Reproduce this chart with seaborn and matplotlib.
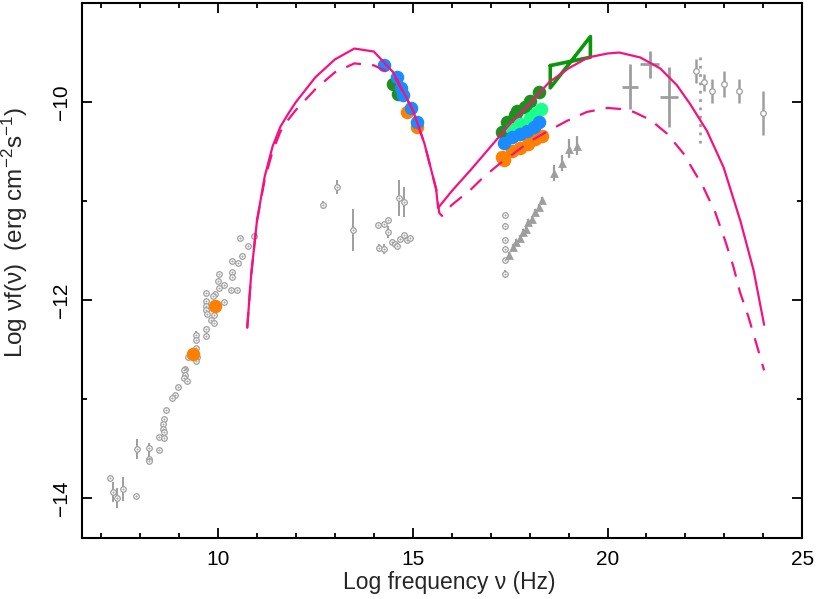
import numpy as np
import pandas as pd
import matplotlib
matplotlib.use("Agg")
import matplotlib.pyplot as plt
from matplotlib.ticker import MultipleLocator
import seaborn as sns

# ---------------- model curves (log nu, log nuFnu) ----------------
sol_x = [10.75, 10.85, 11.0, 11.2, 11.4, 11.6, 11.8, 12.0, 12.5, 13.0, 13.5, 14.0,
         14.5, 15.0, 15.3, 15.6, 15.65, 16.0, 16.5, 17.0, 17.5, 18.0, 18.5, 19.0,
         19.5, 20.0, 20.3, 20.84, 21.35, 21.78, 22.12, 22.55, 22.98, 23.41, 23.75, 24.02]
sol_y = [-12.28, -11.75, -11.2, -10.75, -10.45, -10.25, -10.12, -10.0, -9.75, -9.57,
         -9.46, -9.49, -9.70, -10.08, -10.42, -10.88, -11.07, -10.90, -10.68, -10.45,
         -10.22, -10.02, -9.80, -9.66, -9.55, -9.51, -9.50, -9.55, -9.66, -9.83, -10.02,
         -10.29, -10.66, -11.2, -11.7, -12.25]
dash_x = [10.75, 10.85, 11.0, 11.2, 11.4, 11.6, 11.8, 12.0, 12.5, 13.0, 13.5, 14.0,
          14.5, 15.0, 15.3, 15.6, 15.68, 15.75, 16.0, 16.5, 16.81, 17.24, 17.59, 18.0,
          18.44, 18.96, 19.47, 20.0, 20.33, 20.67, 21.1, 21.53, 21.95, 22.46, 22.77,
          23.02, 23.23, 23.40, 23.61, 23.82, 24.02]
dash_y = [-12.28, -11.75, -11.2, -10.78, -10.5, -10.3, -10.18, -10.08, -9.87, -9.7,
          -9.61, -9.63, -9.72, -10.08, -10.42, -10.88, -11.12, -11.15, -11.04, -10.88,
          -10.76, -10.62, -10.52, -10.40, -10.30, -10.19, -10.10, -10.06, -10.07,
          -10.10, -10.18, -10.32, -10.52, -10.86, -11.12, -11.40, -11.66, -11.92,
          -12.16, -12.44, -12.71]

# ---------------- simultaneous data (four epochs) ----------------
dg_x = [14.50, 14.61, 17.29, 17.42, 17.63, 17.67, 17.89, 18.01, 18.23]
dg_y = [-9.82, -9.92, -10.305, -10.204, -10.136, -10.086, -10.052, -9.985, -9.901]
lg_x = [17.54, 17.76, 18.01, 18.14, 18.29]
lg_y = [-10.27, -10.22, -10.16, -10.12, -10.07]
bl_x = [14.25, 14.59, 14.69, 14.76, 14.95, 15.12, 17.33, 17.54, 17.76, 17.93, 18.10, 18.23]
bl_y = [-9.63, -9.75, -9.857, -9.934, -10.06, -10.20, -10.41, -10.355, -10.32, -10.29, -10.25, -10.20]
or_x = [14.85, 15.10, 9.37, 9.92, 17.29, 17.35, 17.54, 17.76, 17.97, 18.14, 18.31]
or_y = [-10.10, -10.25, -12.54, -12.06, -10.56, -10.59, -10.49, -10.46, -10.42, -10.37, -10.34]

# hard X-ray bow-tie
bow_x = [18.53, 19.56, 19.56, 18.53, 18.53]
bow_y = [-9.632, -9.548, -9.339, -9.857, -9.632]

# ---------------- archival data (grey) ----------------
arch_x = [10.57, 10.78, 10.92, 10.61, 10.52, 10.35, 10.35, 10.37, 10.03, 9.99, 10.16, 10.03,
          9.92, 9.88, 9.69, 10.33, 10.48, 10.16, 9.69, 9.69, 9.69, 9.71, 9.90, 9.81, 9.90,
          9.69, 9.68, 9.43, 9.43, 9.43, 9.45, 9.24, 9.15, 9.43, 9.13, 9.15, 9.13, 9.20, 8.98,
          8.90, 8.81, 8.66, 8.61, 8.58, 8.59, 8.61, 8.49, 8.61, 8.49, 8.24, 8.24, 8.24, 7.93,
          7.23, 7.30, 7.40, 7.57, 7.89,
          13.06, 12.69, 13.46, 14.65, 14.78, 14.12, 14.25, 14.37, 14.37, 14.46, 14.55, 14.59,
          14.68, 14.78, 14.86, 14.93, 14.14, 14.25,
          17.37, 17.37, 17.37, 17.37, 17.37, 17.37]
arch_y = [-11.37, -11.45, -11.35, -11.55, -11.63, -11.61, -11.72, -11.77, -11.74, -11.81, -11.85, -11.88,
          -11.94, -11.96, -11.93, -11.90, -11.90, -12.02, -12.01, -12.06, -12.10, -12.14, -12.15, -12.20, -12.23,
          -12.29, -12.36, -12.35, -12.40, -12.48, -12.58, -12.57, -12.70, -12.62, -12.71, -12.76, -12.79, -12.82, -12.88,
          -12.96, -12.99, -13.11, -13.20, -13.25, -13.30, -13.33, -13.38, -13.39, -13.51, -13.49, -13.60, -13.63, -13.50,
          -13.80, -13.94, -14.00, -13.91, -13.98,
          -10.86, -11.04, -11.29, -10.97, -11.01, -11.24, -11.23, -11.19, -11.31, -11.41, -11.43, -11.45,
          -11.38, -11.34, -11.39, -11.37, -11.47, -11.48,
          -11.145, -11.256, -11.398, -11.481, -11.599, -11.74]
arch_err = [0, 0, 0, 0, 0, 0, 0, 0, 0, 0, 0, 0,
            0, 0, 0, 0, 0, 0, 0, 0, 0, 0, 0, 0, 0,
            0, 0, 0.04, 0, 0, 0, 0, 0, 0, 0, 0, 0, 0, 0,
            0, 0, 0, 0, 0, 0, 0, 0, 0, 0, 0.05, 0.06, 0, 0.1,
            0, 0.1, 0.1, 0.12, 0,
            0.07, 0.045, 0.21, 0.18, 0.15, 0, 0, 0, 0.06, 0.03, 0, 0,
            0, 0, 0, 0, 0.04, 0.05,
            0, 0.03, 0, 0, 0, 0.04]

# hard X-ray triangles
tri_x = [17.48, 17.57, 17.65, 17.74, 17.83, 17.91, 17.97, 18.06, 18.14, 18.23, 18.31,
         18.62, 18.83, 19.02, 19.21]
tri_y = [-11.549, -11.465, -11.415, -11.37, -11.314, -11.28, -11.21, -11.18, -11.11, -11.06, -10.99,
         -10.72, -10.62, -10.47, -10.44]
tri_err = [0.03, 0.03, 0.03, 0.03, 0.03, 0.03, 0.03, 0.03, 0.03, 0.03, 0.03,
           0.08, 0.08, 0.1, 0.1]

# gamma-ray crosses
gam_x = [20.58, 21.08, 21.57]
gam_y = [-9.844, -9.62, -9.95]
gam_xerr = [0.21, 0.245, 0.235]
gam_yerr = [0.23, 0.135, 0.30]

# VHE points
vhe_x = [22.28, 22.47, 22.68, 22.98, 23.38, 23.99]
vhe_y = [-9.69, -9.80, -9.89, -9.82, -9.89, -10.11]
vhe_err = [0.12, 0.085, 0.12, 0.13, 0.12, 0.22]

ul_x = [22.38, 22.38]
ul_y = [-9.55, -10.41]

# ---------------- styling ----------------
sns.set_style("ticks")
plt.rcParams["font.family"] = ["Liberation Sans", "DejaVu Sans"]
plt.rcParams["mathtext.default"] = "regular"

GREY = "#9e9e9e"
MAG = "#f5127f"
C_DG = "#1f8f1f"
C_LG = "#1aff8c"
C_BL = "#1a8cff"
C_OR = "#ff8000"
C_BOW = "#0a960a"

fig = plt.figure(figsize=(8.16, 5.99), dpi=100)
ax = fig.add_axes([0.1001, 0.1023, 0.8831, 0.8927])

# archival grey data
ax.errorbar(arch_x, arch_y, yerr=arch_err, fmt="none", ecolor=GREY, elinewidth=1.4, zorder=2)
sns.scatterplot(x=arch_x, y=arch_y, ax=ax, marker="o", s=16, facecolor="white",
                edgecolor=GREY, linewidth=0.9, zorder=3)
sns.scatterplot(x=arch_x, y=arch_y, ax=ax, marker="o", s=2, color=GREY, linewidth=0, zorder=3)

ax.errorbar(tri_x, tri_y, yerr=tri_err, fmt="none", ecolor=GREY, elinewidth=1.6, zorder=2)
sns.scatterplot(x=tri_x, y=tri_y, ax=ax, marker="^", s=40, color=GREY, linewidth=0, zorder=3)

ax.errorbar(gam_x, gam_y, xerr=gam_xerr, yerr=gam_yerr, fmt="none", ecolor=GREY,
            elinewidth=2.0, zorder=2)
ax.errorbar(vhe_x, vhe_y, yerr=vhe_err, fmt="none", ecolor=GREY, elinewidth=1.8, zorder=2)
sns.scatterplot(x=vhe_x, y=vhe_y, ax=ax, marker="o", s=16, facecolor="white",
                edgecolor=GREY, linewidth=0.9, zorder=3)
sns.lineplot(x=ul_x, y=ul_y, ax=ax, color=GREY, linestyle=(0, (1, 2)), linewidth=2.0,
             sort=False, estimator=None, zorder=2)

# simultaneous data
for xs, ys, c in [(dg_x, dg_y, C_DG), (lg_x, lg_y, C_LG), (or_x, or_y, C_OR), (bl_x, bl_y, C_BL)]:
    sns.scatterplot(x=xs, y=ys, ax=ax, marker="o", s=95, color=c, linewidth=0, zorder=4)

sns.lineplot(x=bow_x, y=bow_y, ax=ax, color=C_BOW, linewidth=2.6, sort=False,
             estimator=None, zorder=5)

# models
sns.lineplot(x=sol_x, y=sol_y, ax=ax, color=MAG, linewidth=1.6, sort=False,
             estimator=None, zorder=6)
sns.lineplot(x=dash_x, y=dash_y, ax=ax, color=MAG, linewidth=1.6, sort=False,
             estimator=None, zorder=6, linestyle=(0, (7, 5)))

ax.set_xlim(6.5, 25)
ax.set_ylim(-14.4, -9.0)
ax.xaxis.set_major_locator(MultipleLocator(5))
ax.xaxis.set_minor_locator(MultipleLocator(1))
ax.yaxis.set_minor_locator(MultipleLocator(1))
ax.set_yticks([-14, -12, -10])
ax.set_yticklabels(["\u221214", "\u221212", "\u221210"])
ax.set_xticks([10, 15, 20, 25])
ax.set_xticklabels(["10", "15", "20", "25"])

ax.tick_params(which="both", direction="in", top=True, right=True, colors="black",
               width=1.3)
ax.tick_params(which="major", length=7.5, labelsize=15)
ax.tick_params(which="minor", length=3.8)
ax.tick_params(axis="x", which="major", pad=9)
ax.tick_params(axis="y", which="major", pad=8, labelrotation=90)
for lab in ax.get_yticklabels():
    lab.set_va("center")
for sp in ax.spines.values():
    sp.set_linewidth(1.5)
    sp.set_color("black")

ax.set_xlabel("Log frequency \u03bd (Hz)", fontsize=16.5)
ax.set_ylabel("Log \u03bdf(\u03bd)  (erg cm$^{-2}$s$^{-1}$)", fontsize=17.5)
ax.xaxis.set_label_coords(0.51, -0.062)
ax.yaxis.set_label_coords(-0.072, 0.57)

fig.savefig("out.png", dpi=100)
